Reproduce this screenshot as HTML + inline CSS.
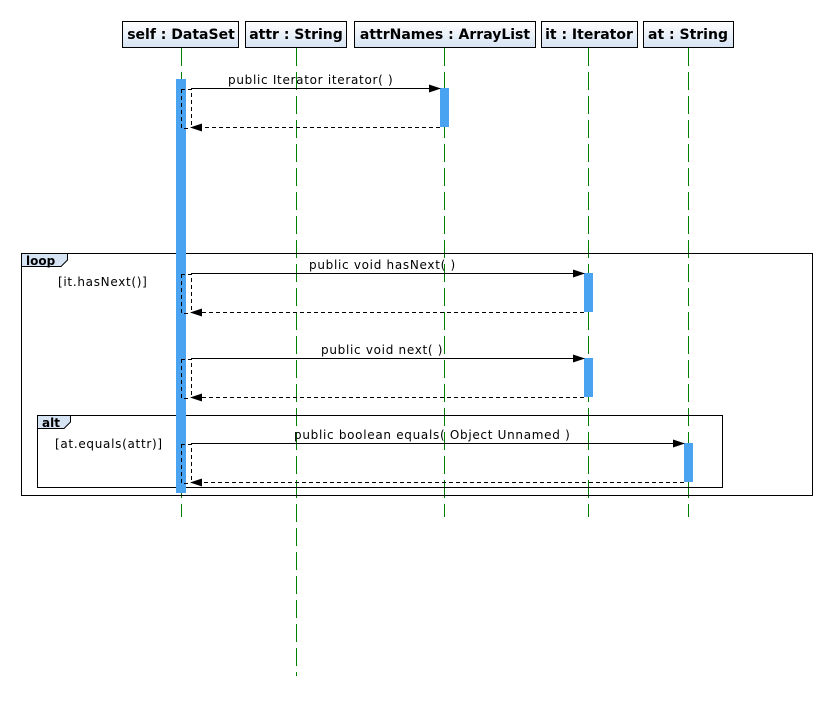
<!DOCTYPE html>
<html><head><meta charset="utf-8"><style>
html,body{margin:0;padding:0;background:#fff;}
svg text{font-family:"DejaVu Sans","Liberation Sans",sans-serif;}
</style></head><body>
<svg width="833" height="696" xmlns="http://www.w3.org/2000/svg">
<defs>
<linearGradient id="g" x1="0" y1="0" x2="0" y2="1"><stop offset="0" stop-color="#ffffff"/><stop offset="1" stop-color="#d6e3f3"/></linearGradient>
<marker id="a" markerWidth="12" markerHeight="8" refX="11" refY="4" orient="auto" markerUnits="userSpaceOnUse"><path d="M0,0 L12,4 L0,8 z" fill="#000"/></marker>
</defs>
<rect width="833" height="696" fill="#fff"/>
<g stroke="#008000" stroke-width="1" stroke-dasharray="18,6">
<line x1="181.5" y1="48" x2="181.5" y2="517"/>
<line x1="296.5" y1="48" x2="296.5" y2="676"/>
<line x1="444.5" y1="48" x2="444.5" y2="517"/>
<line x1="588.5" y1="48" x2="588.5" y2="517"/>
<line x1="688.5" y1="48" x2="688.5" y2="517"/>
</g>
<g stroke="#000" stroke-width="1" fill="url(#g)">
<rect x="122.5" y="21.5" width="116" height="26"/>
<rect x="245.5" y="21.5" width="101" height="26"/>
<rect x="354.5" y="21.5" width="181" height="26"/>
<rect x="541.5" y="21.5" width="96" height="26"/>
<rect x="643.5" y="21.5" width="90" height="26"/>
</g>
<g font-size="14" font-weight="bold" text-anchor="middle" fill="#000">
<text x="181" y="39">self : DataSet</text>
<text x="296" y="39">attr : String</text>
<text x="445" y="39">attrNames : ArrayList</text>
<text x="589" y="39">it : Iterator</text>
<text x="688" y="39">at : String</text>
</g>
<g fill="none" stroke="#000" stroke-width="1">
<rect x="21.5" y="253.5" width="791" height="242"/>
<rect x="37.5" y="415.5" width="685" height="72"/>
</g>
<path d="M21.5,253.5 H67.5 V260 L61,266.5 H21.5 Z" fill="#d6e3f3" stroke="#000"/>
<path d="M37.5,415.5 H70.5 V422 L64,428.5 H37.5 Z" fill="#d6e3f3" stroke="#000"/>
<text x="26" y="265" font-size="12" font-weight="bold">loop</text>
<text x="42" y="427" font-size="12" font-weight="bold">alt</text>
<text x="58" y="286" font-size="12" letter-spacing="0.7">[it.hasNext()]</text>
<text x="55" y="448" font-size="12" letter-spacing="0.7">[at.equals(attr)]</text>
<g fill="#4aa3f0">
<rect x="176" y="79" width="10" height="414"/>
<rect x="440" y="88" width="9" height="39"/>
<rect x="584" y="273" width="9" height="39"/>
<rect x="584" y="358" width="9" height="39"/>
<rect x="684" y="443" width="9" height="39"/>
</g>
<g stroke="#000" stroke-width="1" fill="none">
<line x1="191" y1="88.5" x2="440" y2="88.5" marker-end="url(#a)"/>
<line x1="191" y1="273.5" x2="584" y2="273.5" marker-end="url(#a)"/>
<line x1="191" y1="358.5" x2="584" y2="358.5" marker-end="url(#a)"/>
<line x1="191" y1="443.5" x2="684" y2="443.5" marker-end="url(#a)"/>
<g stroke-dasharray="4,3">
<line x1="440" y1="127.5" x2="191" y2="127.5" marker-end="url(#a)"/>
<line x1="584" y1="312.5" x2="191" y2="312.5" marker-end="url(#a)"/>
<line x1="584" y1="397.5" x2="191" y2="397.5" marker-end="url(#a)"/>
<line x1="684" y1="482.5" x2="191" y2="482.5" marker-end="url(#a)"/>
<path d="M181,89.5 H191.5 V127.5 M181.5,89 V128.5 H191"/>
<path d="M181,274.5 H191.5 V312.5 M181.5,274 V313.5 H191"/>
<path d="M181,359.5 H191.5 V397.5 M181.5,359 V398.5 H191"/>
<path d="M181,444.5 H191.5 V482.5 M181.5,444 V483.5 H191"/>
</g>
</g>
<g font-size="12" fill="#000" letter-spacing="0.7">
<text x="228" y="84">public Iterator  iterator(  )</text>
<text x="309" y="269">public void  hasNext(  )</text>
<text x="321" y="354">public void  next(  )</text>
<text x="294" y="439">public boolean  equals( Object Unnamed )</text>
</g>
</svg>
</body></html>
